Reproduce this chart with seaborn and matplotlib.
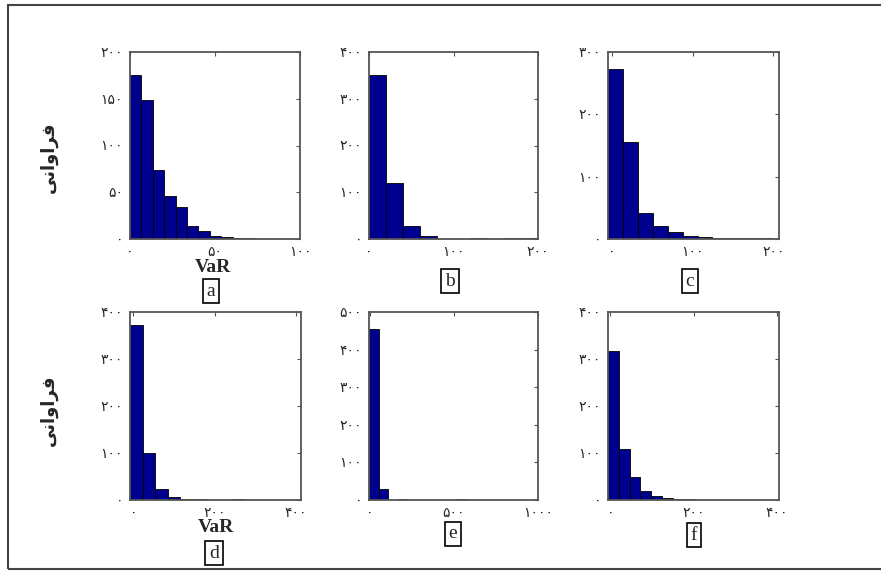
import numpy as np
import pandas as pd
import matplotlib.pyplot as plt
from matplotlib.ticker import FuncFormatter
from matplotlib.patches import Rectangle
import seaborn as sns

# bin counts (start of first bin, bin width, counts)
panel_names = ['a', 'b', 'c', 'd', 'e', 'f']
bin_starts = [0, 0, -5, -8, -4, -6]
bin_widths = [6.7, 20, 18.5, 31, 58, 26]
counts_a = [175, 149, 74, 46, 34, 14, 9, 3, 2, 1, 1]
counts_b = [350, 119, 28, 7, 1, 1, 2, 1, 2, 2]
counts_c = [273, 156, 41, 21, 11, 5, 3, 2, 2, 1, 1]
counts_d = [372, 99, 23, 6, 3, 2, 1, 1, 2]
counts_e = [456, 29, 1, 2, 1, 1, 1, 1, 1, 2]
counts_f = [316, 109, 48, 20, 9, 5, 3, 2, 1, 1]
all_counts = [counts_a, counts_b, counts_c, counts_d, counts_e, counts_f]

x_limits = [(0, 100), (0, 200), (-5, 207), (-8, 412), (-4, 1002), (-6, 406)]
x_ticks = [[0, 50, 100], [0, 100, 200], [0, 100, 200],
           [0, 200, 400], [0, 500, 1000], [0, 200, 400]]
y_tops = [200, 400, 300, 400, 500, 400]
y_steps = [50, 100, 100, 100, 100, 100]

ylabel_text = '\uFEF0\uFEE7\uFE8D\uFEED\uFE8D\uFEAE\uFED3'  # فراوانی, pre-shaped
xlabel_text = 'VaR'

sns.set_style('white')
plt.rcParams['font.family'] = ['Liberation Serif', 'DejaVu Sans']

persian = str.maketrans('0123456789', '۰۱۲۳۴۵۶۷۸۹')
fa_fmt = FuncFormatter(lambda v, p: str(int(round(v))).translate(persian))

fig = plt.figure(figsize=(8.81, 5.72), dpi=100)
W, H = 881, 572

# axes boxes in pixels: left, top, right, bottom
boxes = [(130, 52, 300, 239), (369, 52, 538, 239), (608, 52, 779, 239),
         (130, 312, 301, 500), (369, 312, 538, 500), (608, 312, 779, 500)]
label_pos = [(211, 291), (450, 281), (690, 281), (214, 553), (453, 534), (694, 535)]

for i, name in enumerate(panel_names):
    l, t, r, b = boxes[i]
    ax = fig.add_axes([l / W, 1 - b / H, (r - l) / W, (b - t) / H])
    cnt = all_counts[i]
    edges = [bin_starts[i] + bin_widths[i] * k for k in range(len(cnt) + 1)]
    mids = [(edges[k] + edges[k + 1]) / 2 for k in range(len(cnt))]
    df = pd.DataFrame({'x': mids, 'n': cnt})
    sns.histplot(data=df, x='x', weights='n', bins=edges, ax=ax,
                 color='#00008f', edgecolor='black', linewidth=0.6, alpha=1)
    ax.set_xlim(*x_limits[i])
    ax.set_ylim(0, y_tops[i])
    ax.set_xticks(x_ticks[i])
    ax.set_yticks(np.arange(0, y_tops[i] + 1, y_steps[i]))
    ax.xaxis.set_major_formatter(fa_fmt)
    ax.yaxis.set_major_formatter(fa_fmt)
    ax.tick_params(direction='in', length=3, top=True, right=True,
                   labelsize=10, color='#555555', pad=5)
    for s in ax.spines.values():
        s.set_color('#555555')
        s.set_linewidth(1.3)
    ax.set_xlabel('')
    ax.set_ylabel('')
    fig.text(label_pos[i][0] / W, 1 - label_pos[i][1] / H, name,
             ha='center', va='center', fontsize=14,
             bbox=dict(boxstyle='square,pad=0.2', fc='white', ec='black', lw=1.2))

# row labels
fig.text(213 / W, 1 - 268 / H, xlabel_text, ha='center', va='center',
         fontsize=14, fontweight='bold')
fig.text(216 / W, 1 - 527 / H, xlabel_text, ha='center', va='center',
         fontsize=14, fontweight='bold')
for yc in [157, 410]:
    fig.text(49 / W, 1 - yc / H, ylabel_text, rotation=90, ha='center',
             va='center', fontsize=13, fontweight='bold', family=['DejaVu Sans'])

# outer frame
fig.patches.append(Rectangle((8 / W, 1 - 569 / H), 1.0, (569 - 5) / H,
                             transform=fig.transFigure, fill=False,
                             ec='#444444', lw=1.5))

fig.savefig('out.png', dpi=100)
